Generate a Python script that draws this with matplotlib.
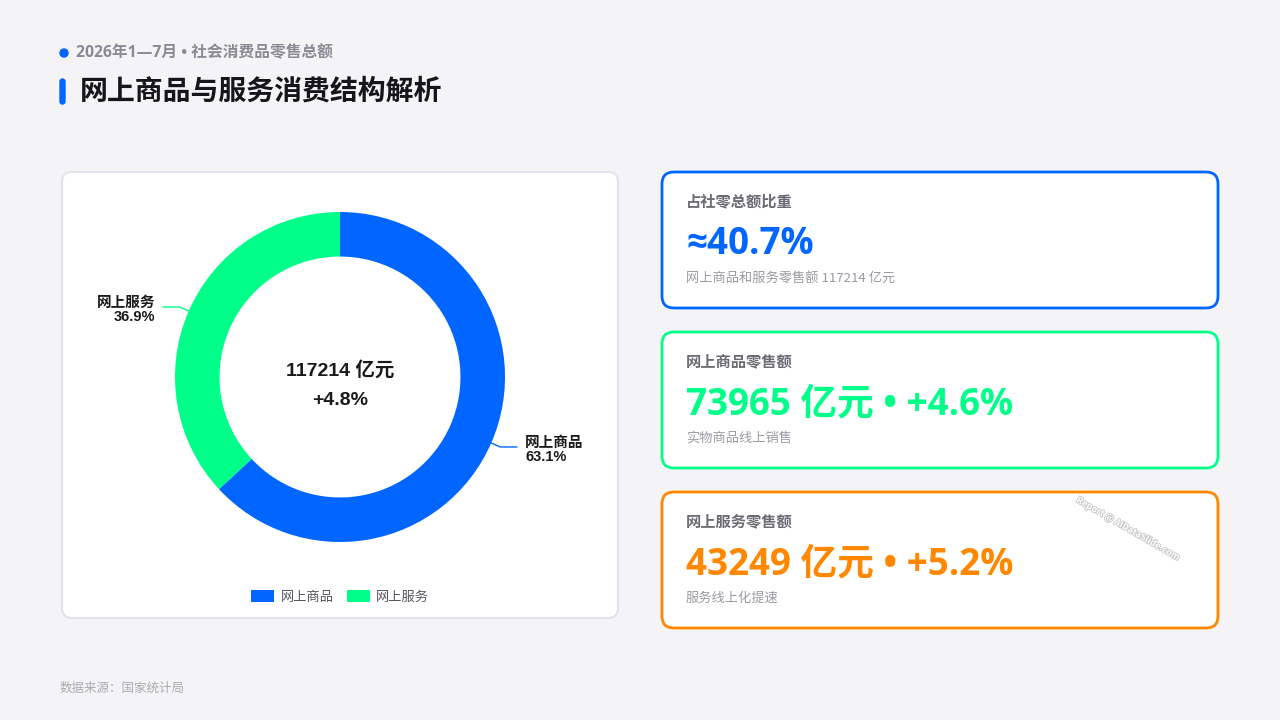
import matplotlib
matplotlib.use('Agg')
import matplotlib.pyplot as plt
import numpy as np
from matplotlib.patches import FancyBboxPatch, Circle
import matplotlib.patheffects as pe

plt.rcParams['font.family'] = ['Noto Sans CJK SC', 'DejaVu Sans']
ui_font = ['Open Sans', 'Noto Sans CJK SC']
chart_font = ['Liberation Sans', 'Noto Sans CJK SC']

# data
categories = ['网上商品', '网上服务']
sales = [73965, 43249]          # 亿元
total_sales = 117214
total_growth = 4.8
share_of_retail = 40.7

card_titles = ['占社零总额比重', '网上商品零售额', '网上服务零售额']
card_values = ['≈40.7%', '73965 亿元 • +4.6%', '43249 亿元 • +5.2%']
card_notes = ['网上商品和服务零售额 117214 亿元', '实物商品线上销售', '服务线上化提速']

blue = '#0066FF'
green = '#00FF88'
orange = '#FF8800'
card_colors = [blue, green, orange]
pie_colors = [blue, green]

W, H = 1280, 720
fig = plt.figure(figsize=(12.8, 7.2), dpi=100)
fig.patch.set_facecolor('#F4F4F7')

# background axes in pixel coordinates
bg = fig.add_axes([0, 0, 1, 1])
bg.set_xlim(0, W)
bg.set_ylim(H, 0)
bg.axis('off')
bg.set_zorder(0)

# header
bg.add_patch(Circle((64, 53), 4, color=blue))
bg.text(76, 53, '2026年1—7月 • 社会消费品零售总额', fontsize=11.3, fontweight='bold',
        color='#8A8A94', va='center', ha='left', family=ui_font)
bg.add_patch(FancyBboxPatch((60, 79), 5, 25, boxstyle='round,pad=0,rounding_size=2.5',
                            color=blue))
bg.text(80, 92, '网上商品与服务消费结构解析', fontsize=20.1, fontweight='bold',
        color='#16161A', va='center', ha='left')

# left card
bg.add_patch(FancyBboxPatch((62, 172), 556, 446, boxstyle='round,pad=0,rounding_size=10',
                            facecolor='white', edgecolor='#E1E3EA', linewidth=1.5))

# right cards
for i in range(3):
    y0 = 172 + i * 160
    bg.add_patch(FancyBboxPatch((662, y0), 556, 136, boxstyle='round,pad=0,rounding_size=12',
                                facecolor='white', edgecolor=card_colors[i], linewidth=2))
    bg.text(686, y0 + 29, card_titles[i], fontsize=11, fontweight='bold',
            color='#6B6B75', va='center', ha='left')
    bg.text(686, y0 + 72, card_values[i], fontsize=26.5, fontweight='bold',
            color=card_colors[i], va='center', ha='left', family=ui_font)
    bg.text(686, y0 + 106, card_notes[i], fontsize=9.5,
            color='#9A9AA4', va='center', ha='left')

# watermark
bg.text(1128, 529, 'Report @ AIDataSlide.com', fontsize=6.5, fontweight='bold',
        color='white', rotation=-30, ha='center', va='center',
        path_effects=[pe.withStroke(linewidth=1.2, foreground='#C8C8CC')])

# footer
bg.text(60, 688, '数据来源：国家统计局', fontsize=9, color='#AAAAB2', va='center', ha='left')

# donut
cx, cy, R = 340, 377, 165
ax = fig.add_axes([(cx - R) / W, (H - cy - R) / H, 2 * R / W, 2 * R / H])
ax.set_zorder(1)
ax.patch.set_alpha(0)
wedges, _ = ax.pie(sales, colors=pie_colors, startangle=90, counterclock=False,
                   radius=1, wedgeprops=dict(width=0.27, linewidth=0))
ax.set_xlim(-1, 1)
ax.set_ylim(-1, 1)
ax.set_aspect('equal')
ax.axis('off')

pcts = np.array(sales) / sum(sales) * 100
for w, name, pct, col in zip(wedges, categories, pcts, pie_colors):
    ang = np.deg2rad((w.theta1 + w.theta2) / 2)
    c, s = np.cos(ang), np.sin(ang)
    sign = 1 if c >= 0 else -1
    p0 = (0.93 * c, 0.93 * s)
    p1 = (1.06 * c, 1.06 * s)
    p2 = (p1[0] + sign * 0.1, p1[1])
    ax.plot([p0[0], p1[0], p2[0]], [p0[1], p1[1], p2[1]], color=col, lw=1,
            clip_on=False, zorder=0.5)
    ax.text(p2[0] + sign * 0.05, p2[1] - 0.02, f'{name}\n{pct:.1f}%', fontsize=10.5,
            fontweight='bold', color='#1A1A1A', ha='left' if sign > 0 else 'right',
            va='center', linespacing=1.0, clip_on=False, family=chart_font)

ax.text(0, 0.04, f'{total_sales} 亿元', fontsize=14, fontweight='bold',
        color='#1A1A1A', ha='center', va='center', family=chart_font)
ax.text(0, -0.14, f'+{total_growth}%', fontsize=14, fontweight='bold',
        color='#1A1A1A', ha='center', va='center', family=chart_font)

leg = ax.legend(wedges, categories, loc='center', bbox_to_anchor=(cx / W, (H - 597) / H),
                bbox_transform=fig.transFigure, ncol=2, frameon=False, fontsize=9.5,
                handlelength=1.75, handleheight=1.0, columnspacing=1.0, handletextpad=0.5)
for t in leg.get_texts():
    t.set_color('#555560')

fig.savefig('out.png', dpi=100, facecolor=fig.get_facecolor())
